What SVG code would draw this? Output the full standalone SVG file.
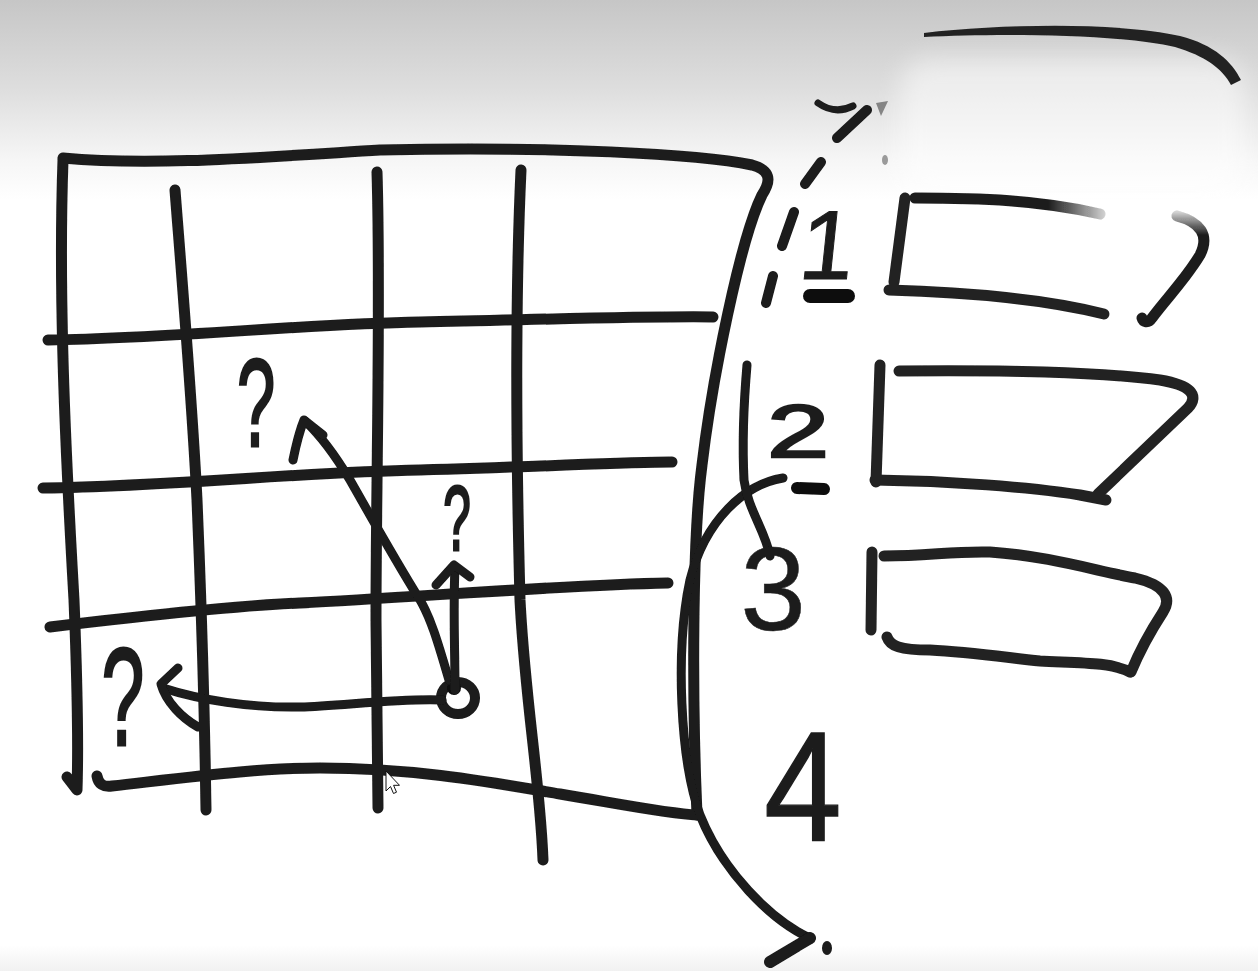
<svg xmlns="http://www.w3.org/2000/svg" width="1258" height="971" viewBox="0 0 1258 971">
<defs>
<linearGradient id="bgTop" x1="0" y1="0" x2="0" y2="1">
<stop offset="0" stop-color="#c6c6c6"/>
<stop offset="0.45" stop-color="#dedede"/>
<stop offset="0.8" stop-color="#f6f6f6"/>
<stop offset="1" stop-color="#ffffff"/>
</linearGradient>
<linearGradient id="bgBot" x1="0" y1="0" x2="0" y2="1">
<stop offset="0" stop-color="#ffffff"/>
<stop offset="1" stop-color="#f1f1f1"/>
</linearGradient>
<linearGradient id="fadeTop" gradientUnits="userSpaceOnUse" x1="915" y1="0" x2="1120" y2="0">
<stop offset="0" stop-color="#1e1e1e"/>
<stop offset="0.65" stop-color="#1e1e1e"/>
<stop offset="1" stop-color="#1e1e1e" stop-opacity="0"/>
</linearGradient>
<linearGradient id="fadeRight" gradientUnits="userSpaceOnUse" x1="0" y1="212" x2="0" y2="235">
<stop offset="0" stop-color="#1e1e1e" stop-opacity="0.2"/>
<stop offset="1" stop-color="#1e1e1e"/>
</linearGradient>
<filter id="soft" x="-5%" y="-5%" width="110%" height="110%"><feGaussianBlur stdDeviation="0.7"/></filter>
<filter id="haze" x="-20%" y="-40%" width="140%" height="180%"><feGaussianBlur stdDeviation="12"/></filter>
</defs>
<style>
.ln{fill:none;stroke:#1e1e1e;stroke-width:11;stroke-linecap:round;stroke-linejoin:round}
.ar{fill:none;stroke:#1a1a1a;stroke-width:9;stroke-linecap:round;stroke-linejoin:round}
.bx{fill:none;stroke:#222;stroke-width:11;stroke-linecap:round;stroke-linejoin:round}
.blob{fill:none;stroke:#0c0c0c;stroke-width:14;stroke-linecap:round}
.dig{font-family:"Liberation Sans",Arial,sans-serif;fill:#1e1e1e;stroke:#1e1e1e;text-anchor:middle}
.q{font-family:"Liberation Sans",Arial,sans-serif;fill:#1e1e1e;stroke:#1e1e1e;stroke-width:3;text-anchor:middle}
</style>
<rect width="1258" height="971" fill="#ffffff"/>
<rect width="1258" height="200" fill="url(#bgTop)"/>
<rect y="945" width="1258" height="26" fill="url(#bgBot)"/>
<rect x="900" y="58" width="345" height="140" rx="30" fill="#ffffff" opacity="0.5" filter="url(#haze)"/>

<g filter="url(#soft)">
<g id="grid">
<path class="ln" d="M63,158 C150,166 250,158 380,150 C550,146 700,154 752,165 C770,170 772,180 762,195 C740,240 712,380 702,465 C692,540 692,700 697,815"/>
<path class="ln" d="M63,160 C58,300 66,460 74,600 C78,700 78,760 77,790 L67,777"/>
<path class="ln" d="M175,190 C182,280 192,400 197,500 C202,620 205,740 206,810"/>
<path class="ln" d="M377,172 C381,300 376,480 376,620 C377,720 378,780 378,808"/>
<path class="ln" d="M521,170 C515,300 516,450 520,600 C525,700 540,780 543,860"/>
<path class="ln" d="M48,340 C180,338 300,324 420,322 C560,319 650,316 713,317"/>
<path class="ln" d="M43,488 C180,486 300,472 420,470 C540,467 620,462 672,462"/>
<path class="ln" d="M50,627 C150,615 250,605 300,603 C420,597 560,585 668,583"/>
<path class="ln" d="M97,776 Q99,788 112,786 C200,776 260,768 320,768 C420,768 500,784 560,794 C620,804 670,814 697,815"/>
</g>

<g id="connectors">
<ellipse class="ar" cx="458" cy="698" rx="17" ry="16" style="stroke-width:10"/>
<circle cx="454" cy="688" r="7" fill="#0c0c0c"/>
<path class="ar" d="M442,700 C400,698 340,706 300,707 C250,708 200,700 163,688"/>
<path class="ar" d="M178,668 L161,684 C166,702 182,718 198,727"/>
<path class="ar" d="M449,680 C440,650 432,620 420,600 C395,560 370,515 350,480 C335,455 320,435 305,421"/>
<path class="ar" d="M293,460 C296,445 300,430 304,420 L323,435"/>
<path class="ar" d="M455,690 C455,650 453,610 455,567"/>
<path class="ar" d="M436,585 L454,565 L470,577"/>
<path class="ar" d="M783,478 C745,484 705,520 690,580 C675,650 680,760 700,815 C722,870 770,920 810,938"/>
<path class="ar" d="M810,938 L770,962" style="stroke-width:12"/>
<ellipse cx="827" cy="948" rx="5" ry="7" fill="#1a1a1a"/>
<path class="ar" d="M747,365 C744,400 742,440 744,480 C748,510 765,530 770,556"/>
<path class="ar" d="M867,110 L837,138 M821,162 L805,184 M794,212 L782,246 M773,276 L766,303" style="stroke-width:10"/>
<path class="ar" d="M818,103 Q835,115 853,106" style="stroke-width:7"/>
<path d="M876,103 L888,101 L881,116 Z" fill="#444" opacity="0.6"/>
<ellipse cx="885" cy="160" rx="3" ry="5" fill="#9a9a9a"/>
</g>

<g id="top-arc">
<path d="M924,33 C1000,24 1120,22 1180,36 C1215,45 1232,62 1241,80 L1231,85 C1222,68 1205,56 1175,47 C1120,34 1000,33 924,37 Z" fill="#222"/>
</g>

<g id="box1">
<path class="bx" d="M905,198 L894,282"/>
<path class="bx" d="M915,198 C980,198 1040,200 1100,214" style="stroke:url(#fadeTop)"/>
<path class="bx" d="M1177,216 C1200,222 1210,235 1200,255 C1185,280 1165,300 1152,318 C1148,324 1143,322 1142,318" style="stroke:url(#fadeRight)"/>
<path class="bx" d="M889,290 C960,292 1040,298 1104,314"/>
</g>
<g id="box2">
<path class="bx" d="M880,365 L876,482"/>
<path class="bx" d="M899,371 C1000,370 1100,372 1160,380 C1190,385 1200,395 1188,408 L1098,494"/>
<path class="bx" d="M875,480 C950,481 1030,487 1080,495 L1106,500"/>
</g>
<g id="box3">
<path class="bx" d="M872,552 L871,630"/>
<path class="bx" d="M884,556 C930,556 950,551 990,552 C1050,556 1100,572 1135,578 C1165,585 1172,598 1163,612 C1150,632 1140,650 1131,672"/>
<path class="bx" d="M887,637 C890,646 900,650 930,650 C970,652 1010,658 1040,661 C1080,663 1110,662 1130,672"/>
</g>

<g id="labels">
<text class="dig" font-size="98" stroke-width="1" transform="translate(824,279) skewX(-6)">1</text>
<path class="blob" d="M810,296 L848,296"/>
<text class="dig" font-size="74" stroke-width="2.5" transform="translate(798,457) scale(1.5,1)">2</text>
<path class="blob" d="M797,488 L824,489" style="stroke-width:12"/>
<text class="dig" font-size="118" stroke-width="0.5" transform="translate(773,630)">3</text>
<text class="dig" font-size="112" stroke-width="1" transform="translate(803,840) scale(1.25,1.4)">4</text>
<text class="q" font-size="125" transform="translate(256,446) scale(0.55,1)">?</text>
<text class="q" font-size="90" transform="translate(457,550) scale(0.55,1)">?</text>
<text class="q" font-size="140" transform="translate(123,745) scale(0.55,1)">?</text>
</g>
</g>

<g id="cursor">
<path d="M386,771 L386,791 L390.5,786.5 L393.5,793.5 L396.5,792.2 L393.6,785.3 L399.5,785.3 Z" fill="#ffffff" stroke="#111" stroke-width="1" stroke-linejoin="round"/>
</g>
</svg>
